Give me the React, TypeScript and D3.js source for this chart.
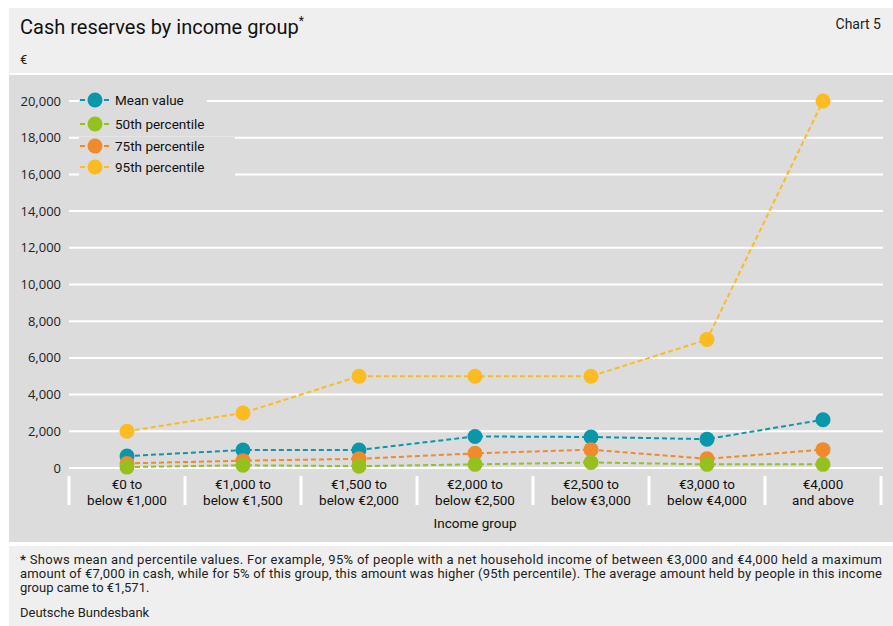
import React from "react";
import * as d3 from "d3";

const categories = [
  ["€0 to", "below €1,000"],
  ["€1,000 to", "below €1,500"],
  ["€1,500 to", "below €2,000"],
  ["€2,000 to", "below €2,500"],
  ["€2,500 to", "below €3,000"],
  ["€3,000 to", "below €4,000"],
  ["€4,000", "and above"],
];
const meanValue = [650, 980, 980, 1720, 1690, 1571, 2630];
const p50 = [50, 150, 100, 200, 300, 200, 200];
const p75 = [250, 400, 500, 800, 1000, 500, 1000];
const p95 = [2000, 3000, 5000, 5000, 5000, 7000, 20000];
const yTicks = [0, 2000, 4000, 6000, 8000, 10000, 12000, 14000, 16000, 18000, 20000];

const seriesNames = ["Mean value", "50th percentile", "75th percentile", "95th percentile"];
const seriesColors = ["#0a97ab", "#95c11f", "#f08a2a", "#fbbb21"];

const footerLines = [
  "* Shows mean and percentile values. For example, 95% of people with a net household income of between €3,000 and €4,000 held a maximum",
  "amount of €7,000 in cash, while for 5% of this group, this amount was higher (95th percentile). The average amount held by people in this income",
  "group came to €1,571.",
];

export default function App() {
  const W = 893, H = 626;
  const x = d3.scaleBand<number>().domain(d3.range(categories.length)).range([69, 881]);
  const y = d3.scaleLinear().domain([0, 20000]).range([468, 101]);
  const line = d3.line<number>().x((_, i) => x(i)! + x.bandwidth() / 2).y((d) => y(d));
  const series = [meanValue, p50, p75, p95];
  const drawOrder = [3, 0, 2, 1];
  const font = "'Open Sans', 'Noto Sans', sans-serif";
  const cond = "Roboto, 'Noto Sans', sans-serif";
  const legendY = [100, 124, 146, 167];
  const legendW = [92, 120, 120, 120];

  return (
    <svg width={W} height={H} style={{ position: "absolute", left: 0, top: 0, display: "block" }}>
      <rect x={0} y={0} width={W} height={H} fill="#ffffff" />
      <rect x={9} y={8} width={W - 9} height={65} fill="#efefef" />
      <rect x={9} y={75} width={W - 9} height={467} fill="#dcdcdc" />
      <rect x={9} y={546} width={W - 9} height={80} fill="#efefef" />

      <text x={20} y={34} fontFamily={cond} fontSize={20} fill="#111">
        Cash reserves by income group
        <tspan fontSize={12} dy={-9}>*</tspan>
      </text>
      <text x={881} y={29} textAnchor="end" fontFamily={cond} fontSize={14} fill="#222">Chart 5</text>
      <text x={20} y={64} fontFamily={cond} fontSize={13} fill="#222">€</text>

      {yTicks.map((t) => (
        <g key={t}>
          <line x1={69} x2={883} y1={y(t)} y2={y(t)} stroke="#ffffff" strokeWidth={2} />
          <text x={61} y={y(t) + 4.5} textAnchor="end" fontFamily={font} fontSize={13} fill="#222">
            {d3.format(",")(t)}
          </text>
        </g>
      ))}

      {d3.range(categories.length + 1).map((i) => {
        const xx = i < categories.length ? x(i)! : x(categories.length - 1)! + x.bandwidth();
        return <line key={i} x1={xx} x2={xx} y1={476} y2={505} stroke="#ffffff" strokeWidth={3} />;
      })}
      {categories.map((c, i) => (
        <g key={i}>
          <text x={x(i)! + x.bandwidth() / 2} y={489} textAnchor="middle" fontFamily={cond} fontSize={13.5} fill="#111">{c[0]}</text>
          <text x={x(i)! + x.bandwidth() / 2} y={505} textAnchor="middle" fontFamily={cond} fontSize={13.5} fill="#111">{c[1]}</text>
        </g>
      ))}
      <text x={475} y={528} textAnchor="middle" fontFamily={cond} fontSize={13.5} fill="#111">Income group</text>

      {drawOrder.map((s) => (
        <g key={s}>
          <path d={line(series[s]) || ""} fill="none" stroke={seriesColors[s]} strokeWidth={2} strokeDasharray="5,3" />
          {series[s].map((v, i) => (
            <circle key={i} cx={x(i)! + x.bandwidth() / 2} cy={y(v)} r={7.5} fill={seriesColors[s]} />
          ))}
        </g>
      ))}

      {seriesNames.map((n, i) => (
        <g key={n}>
          <rect x={79} y={legendY[i] - 9} width={legendW[i] + 36} height={18} fill="#dcdcdc" />
          <line x1={80} x2={109} y1={legendY[i]} y2={legendY[i]} stroke={seriesColors[i]} strokeWidth={2} strokeDasharray="5,3" />
          <circle cx={95} cy={legendY[i]} r={7.5} fill={seriesColors[i]} />
          <text x={115} y={legendY[i] + 4.5} fontFamily={cond} fontSize={13.5} fill="#111">{n}</text>
        </g>
      ))}

      {footerLines.map((l, i) => (
        <text
          key={i}
          x={20}
          y={564 + i * 14}
          fontFamily={cond}
          fontSize={13}
          fill="#222"
          textLength={i < 2 ? 862 : undefined}
          lengthAdjust="spacing"
        >
          {i === 0 ? (
            <>
              <tspan fontWeight="bold">*</tspan>
              {l.slice(1)}
            </>
          ) : (
            l
          )}
        </text>
      ))}
      <text x={20} y={617} fontFamily={cond} fontSize={13} fill="#222">Deutsche Bundesbank</text>
    </svg>
  );
}
